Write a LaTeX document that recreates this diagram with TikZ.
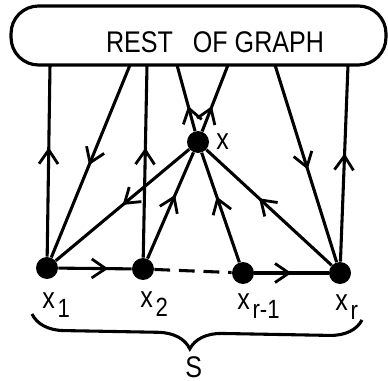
\documentclass[tikz,border=0pt]{standalone}
\usepackage{fontspec}
\setmainfont[FakeStretch=0.84]{Liberation Sans}
\usetikzlibrary{arrows.meta, decorations.markings, decorations.pathreplacing}
\newcommand{\lowsub}[1]{\hspace{1.5pt}\raisebox{-5.5pt}{\fontsize{15}{16}\selectfont #1}}

\begin{document}
\begin{tikzpicture}[
    x=0.02cm, y=-0.02cm,
    vertex/.style={circle, fill=black, inner sep=0pt, minimum size=0.44cm},
    restbox/.style={rectangle, draw, rounded corners=0.55cm, line width=1.8pt, minimum width=7.5cm, minimum height=1.18cm, inner sep=0pt, outer sep=0pt},
    lbl/.style={font=\fontsize{17}{18}\selectfont, inner sep=0pt},
    edge/.style={line width=1.75pt},
    midarr/.style={postaction={decorate, decoration={markings, mark=at position #1 with {\arrow{Straight Barb[length=2.8mm, width=3.8mm, line width=1.6pt]}}}}}
]
\useasboundingbox (0,0) rectangle (388,381);

% Rest of graph
\node[restbox] (rest) at (198.5,35.5) {};
\node[lbl] (resttext) at (215,42.5) {REST\hspace{0.4cm}OF GRAPH};

% Vertices of S and x
\node[vertex] (x1) at (47,268) {};
\node[vertex] (x2) at (143,269) {};
\node[vertex] (xr1) at (243,273) {};
\node[vertex] (xr) at (340,273) {};
\node[vertex] (x) at (198,142) {};

% Points where edges meet the box
\coordinate (b1) at (50,65);
\coordinate (b2) at (130,65);
\coordinate (b3) at (147,65);
\coordinate (b4) at (177,65);
\coordinate (b5) at (228,65);
\coordinate (b6) at (275,65);
\coordinate (b7) at (348,65);

% Edges
\draw[edge, midarr=0.57] (x1) -- (b1);
\draw[edge, midarr=0.52] (b2) -- (x1);
\draw[edge, midarr=0.57] (x2) -- (b3);
\draw[edge, midarr=0.5] (x) -- (x1);
\draw[edge, midarr=0.6] (x2) -- (x);
\draw[edge, midarr=0.38] (x) -- (b4);
\draw[edge, midarr=0.38] (x) -- (b5);
\draw[edge, midarr=0.6] (xr1) -- (x);
\draw[edge, midarr=0.58] (xr) -- (x);
\draw[edge, midarr=0.53] (b6) -- (xr);
\draw[edge, midarr=0.55] (xr) -- (b7);
\draw[edge, midarr=0.68] (x1) -- (x2);
\draw[edge, dash pattern=on 9pt off 5pt] (x2) -- (xr1);
\draw[edge, midarr=0.5] (xr1) -- (xr);

% Labels
\node[lbl, anchor=base west] (lx) at (216,150) {x};
\node[lbl, anchor=base west] (lx1) at (42,308) {x\lowsub{1}};
\node[lbl, anchor=base west] (lx2) at (140,307) {x\lowsub{2}};
\node[lbl, anchor=base west] (lxr1) at (237,309) {x\lowsub{r-1}};
\node[lbl, anchor=base west] (lxr) at (335,310) {x\lowsub{r}};

% Brace under S
\coordinate (sl) at (32,314);
\coordinate (sr) at (362,320);
\draw[edge, decorate, decoration={brace, mirror, amplitude=0.64cm, aspect=0.48}] (sl) -- (sr);
\node[lbl, anchor=base west] (ls) at (185,377) {S};
\end{tikzpicture}
\end{document}
